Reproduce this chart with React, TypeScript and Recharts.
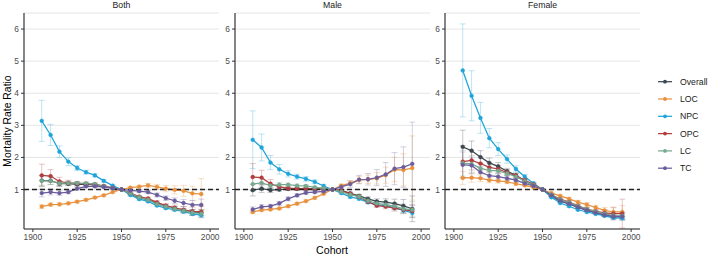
import React from "react";
import {
  LineChart,
  Line,
  XAxis,
  YAxis,
  CartesianGrid,
  ReferenceLine,
  ErrorBar,
} from "recharts";

// Birth cohorts (5-year steps)
const cohorts = [1905, 1910, 1915, 1920, 1925, 1930, 1935, 1940, 1945, 1950, 1955, 1960, 1965, 1970, 1975, 1980, 1985, 1990, 1995];

const seriesNames = ["Overall", "LOC", "NPC", "OPC", "LC", "TC"];
const panelTitles = ["Both", "Male", "Female"];
const xTicks = [1900, 1925, 1950, 1975, 2000];
const yTicks = [1, 2, 3, 4, 5, 6];

// Both sexes: mortality rate ratio by cohort
const bothOverall = [1.28, 1.28, 1.18, 1.18, 1.16, 1.16, 1.15, 1.10, 1.04, 1.00, 0.86, 0.75, 0.68, 0.57, 0.48, 0.42, 0.35, 0.30, 0.28];
const bothLOC = [0.47, 0.53, 0.54, 0.57, 0.62, 0.68, 0.75, 0.82, 0.92, 1.00, 1.06, 1.09, 1.13, 1.08, 1.03, 0.99, 0.96, 0.88, 0.86];
const bothNPC = [3.14, 2.70, 2.18, 1.87, 1.67, 1.54, 1.44, 1.27, 1.12, 1.00, 0.83, 0.70, 0.63, 0.50, 0.42, 0.37, 0.31, 0.24, 0.20];
const bothOPC = [1.44, 1.42, 1.25, 1.21, 1.19, 1.18, 1.16, 1.11, 1.05, 1.00, 0.89, 0.78, 0.72, 0.60, 0.50, 0.43, 0.37, 0.32, 0.30];
const bothLC = [1.27, 1.27, 1.19, 1.20, 1.20, 1.19, 1.17, 1.10, 1.04, 1.00, 0.88, 0.76, 0.68, 0.55, 0.47, 0.40, 0.34, 0.28, 0.25];
const bothTC = [0.89, 0.92, 0.89, 0.92, 1.03, 1.10, 1.10, 1.08, 1.04, 1.00, 0.97, 0.95, 0.92, 0.83, 0.73, 0.65, 0.58, 0.52, 0.52];

// Both sexes: 95% CI half-widths
const bothOverallErr = [0.15, 0.12, 0.08, 0.06, 0.05, 0.04, 0.03, 0.03, 0.02, 0, 0.02, 0.02, 0.03, 0.03, 0.04, 0.05, 0.06, 0.07, 0.09];
const bothLOCErr = [0.06, 0.05, 0.05, 0.04, 0.04, 0.04, 0.03, 0.03, 0.03, 0, 0.03, 0.04, 0.06, 0.08, 0.10, 0.13, 0.17, 0.22, 0.48];
const bothNPCErr = [0.64, 0.33, 0.18, 0.12, 0.08, 0.06, 0.05, 0.04, 0.03, 0, 0.03, 0.03, 0.03, 0.03, 0.03, 0.04, 0.04, 0.05, 0.05];
const bothOPCErr = [0.35, 0.20, 0.13, 0.08, 0.06, 0.05, 0.04, 0.03, 0.03, 0, 0.03, 0.03, 0.04, 0.05, 0.06, 0.08, 0.10, 0.13, 0.18];
const bothLCErr = [0.18, 0.12, 0.08, 0.06, 0.05, 0.04, 0.04, 0.03, 0.03, 0, 0.03, 0.03, 0.04, 0.04, 0.05, 0.06, 0.07, 0.09, 0.12];
const bothTCErr = [0.12, 0.09, 0.07, 0.05, 0.05, 0.04, 0.04, 0.03, 0.03, 0, 0.03, 0.04, 0.05, 0.06, 0.07, 0.09, 0.11, 0.14, 0.18];

// Male
const maleOverall = [0.98, 1.03, 0.98, 1.00, 1.02, 1.02, 1.02, 1.01, 1.01, 1.00, 0.97, 0.88, 0.80, 0.71, 0.63, 0.61, 0.56, 0.49, 0.40];
const maleLOC = [0.30, 0.36, 0.38, 0.41, 0.48, 0.56, 0.64, 0.74, 0.87, 1.00, 1.12, 1.20, 1.30, 1.32, 1.35, 1.45, 1.62, 1.61, 1.67];
const maleNPC = [2.55, 2.31, 1.84, 1.63, 1.49, 1.40, 1.33, 1.24, 1.11, 1.00, 0.89, 0.77, 0.71, 0.60, 0.52, 0.50, 0.43, 0.35, 0.27];
const maleOPC = [1.39, 1.37, 1.18, 1.08, 1.04, 1.03, 1.03, 1.02, 1.01, 1.00, 0.96, 0.87, 0.77, 0.62, 0.50, 0.47, 0.42, 0.37, 0.33];
const maleLC = [1.17, 1.21, 1.12, 1.15, 1.15, 1.12, 1.11, 1.07, 1.04, 1.00, 0.93, 0.84, 0.78, 0.65, 0.57, 0.53, 0.48, 0.40, 0.37];
const maleTC = [0.38, 0.46, 0.48, 0.57, 0.71, 0.82, 0.90, 0.92, 0.94, 1.00, 1.08, 1.17, 1.31, 1.32, 1.37, 1.47, 1.65, 1.70, 1.80];

const maleOverallErr = [0.18, 0.12, 0.07, 0.05, 0.04, 0.03, 0.03, 0.03, 0.02, 0, 0.03, 0.04, 0.05, 0.06, 0.08, 0.10, 0.14, 0.20, 0.40];
const maleLOCErr = [0.05, 0.05, 0.04, 0.04, 0.04, 0.04, 0.04, 0.04, 0.04, 0, 0.05, 0.07, 0.10, 0.13, 0.18, 0.25, 0.38, 0.50, 1.00];
const maleNPCErr = [0.90, 0.42, 0.22, 0.15, 0.10, 0.08, 0.07, 0.06, 0.05, 0, 0.04, 0.04, 0.04, 0.04, 0.05, 0.05, 0.06, 0.07, 0.10];
const maleOPCErr = [0.42, 0.23, 0.13, 0.08, 0.06, 0.05, 0.04, 0.04, 0.03, 0, 0.03, 0.04, 0.05, 0.05, 0.06, 0.07, 0.09, 0.12, 0.20];
const maleLCErr = [0.22, 0.14, 0.09, 0.07, 0.05, 0.05, 0.04, 0.04, 0.03, 0, 0.04, 0.04, 0.05, 0.06, 0.07, 0.09, 0.11, 0.15, 0.25];
const maleTCErr = [0.08, 0.07, 0.06, 0.06, 0.06, 0.05, 0.05, 0.05, 0.05, 0, 0.06, 0.10, 0.13, 0.18, 0.25, 0.37, 0.50, 0.63, 1.30];

// Female
const femaleOverall = [2.33, 2.21, 2.01, 1.83, 1.72, 1.57, 1.44, 1.27, 1.13, 1.00, 0.80, 0.64, 0.55, 0.44, 0.35, 0.27, 0.20, 0.15, 0.14];
const femaleLOC = [1.36, 1.37, 1.35, 1.29, 1.27, 1.24, 1.18, 1.13, 1.07, 1.00, 0.89, 0.80, 0.71, 0.61, 0.53, 0.44, 0.35, 0.30, 0.30];
const femaleNPC = [4.71, 3.92, 3.23, 2.60, 2.26, 1.95, 1.64, 1.40, 1.19, 1.00, 0.76, 0.58, 0.48, 0.37, 0.30, 0.24, 0.18, 0.12, 0.11];
const femaleOPC = [1.87, 1.91, 1.81, 1.69, 1.64, 1.53, 1.43, 1.29, 1.16, 1.00, 0.83, 0.70, 0.61, 0.49, 0.39, 0.32, 0.27, 0.25, 0.25];
const femaleLC = [1.82, 1.80, 1.66, 1.60, 1.58, 1.50, 1.40, 1.26, 1.14, 1.00, 0.84, 0.69, 0.60, 0.48, 0.39, 0.31, 0.25, 0.19, 0.18];
const femaleTC = [1.77, 1.75, 1.54, 1.43, 1.40, 1.35, 1.29, 1.19, 1.11, 1.00, 0.82, 0.65, 0.56, 0.45, 0.36, 0.28, 0.21, 0.16, 0.16];

const femaleOverallErr = [0.52, 0.30, 0.20, 0.15, 0.12, 0.09, 0.07, 0.05, 0.04, 0, 0.03, 0.03, 0.03, 0.03, 0.03, 0.03, 0.04, 0.05, 0.07];
const femaleLOCErr = [0.20, 0.14, 0.10, 0.08, 0.07, 0.06, 0.05, 0.04, 0.03, 0, 0.03, 0.04, 0.04, 0.05, 0.06, 0.07, 0.09, 0.13, 0.20];
const femaleNPCErr = [1.45, 0.78, 0.48, 0.30, 0.20, 0.13, 0.10, 0.07, 0.05, 0, 0.03, 0.03, 0.03, 0.03, 0.03, 0.03, 0.03, 0.04, 0.05];
const femaleOPCErr = [0.50, 0.30, 0.20, 0.15, 0.12, 0.09, 0.07, 0.05, 0.04, 0, 0.03, 0.03, 0.04, 0.04, 0.05, 0.06, 0.10, 0.20, 0.45];
const femaleLCErr = [0.40, 0.26, 0.17, 0.13, 0.10, 0.08, 0.06, 0.05, 0.04, 0, 0.03, 0.03, 0.03, 0.04, 0.04, 0.05, 0.06, 0.08, 0.12];
const femaleTCErr = [0.40, 0.26, 0.17, 0.12, 0.10, 0.08, 0.06, 0.05, 0.04, 0, 0.03, 0.03, 0.03, 0.04, 0.04, 0.05, 0.06, 0.08, 0.12];

const colors: Record<string, string> = {
  Overall: "#3a474e",
  LOC: "#e8913d",
  NPC: "#1ea4d8",
  OPC: "#b23b3c",
  LC: "#76a98f",
  TC: "#6b5d9c",
};

const FONT = "'Liberation Sans', Arial, Helvetica, sans-serif";

function buildRows(values: number[][], errs: number[][]) {
  return cohorts.map((c, i) => {
    const row: Record<string, number> = { cohort: c };
    seriesNames.forEach((s, k) => {
      row[s] = values[k][i];
      row[s + "_err"] = errs[k][i];
    });
    return row;
  });
}

const panels = [
  buildRows(
    [bothOverall, bothLOC, bothNPC, bothOPC, bothLC, bothTC],
    [bothOverallErr, bothLOCErr, bothNPCErr, bothOPCErr, bothLCErr, bothTCErr]
  ),
  buildRows(
    [maleOverall, maleLOC, maleNPC, maleOPC, maleLC, maleTC],
    [maleOverallErr, maleLOCErr, maleNPCErr, maleOPCErr, maleLCErr, maleTCErr]
  ),
  buildRows(
    [femaleOverall, femaleLOC, femaleNPC, femaleOPC, femaleLC, femaleTC],
    [femaleOverallErr, femaleLOCErr, femaleNPCErr, femaleOPCErr, femaleLCErr, femaleTCErr]
  ),
];

const panelLefts = [0, 211, 421];
const PANEL_W = 222;
const AXIS_W = 24;
const PLOT_TOP = 13;
const XAXIS_H = 29;
const H = 258;

function Panel({ rows, title, left }: { rows: Record<string, number>[]; title: string; left: number }) {
  const plotLeft = left + AXIS_W;
  const plotRight = left + PANEL_W - 3;
  return (
    <div style={{ position: "absolute", left, top: 0, width: PANEL_W, height: H }}>
      <LineChart
        width={PANEL_W}
        height={H}
        data={rows}
        margin={{ top: PLOT_TOP, right: 3, bottom: 0, left: 0 }}
      >
        <CartesianGrid vertical={false} stroke="#e6e6e6" strokeWidth={1} />
        <XAxis
          type="number"
          dataKey="cohort"
          domain={[1895, 2005]}
          ticks={xTicks}
          allowDataOverflow
          height={XAXIS_H}
          tickSize={3}
          tickMargin={2}
          stroke="#222"
          tick={{ fill: "#4d4d4d", fontSize: 8.4, fontFamily: FONT }}
          tickLine={{ stroke: "#333" }}
          axisLine={{ stroke: "#222", strokeWidth: 1.1 }}
        />
        <YAxis
          type="number"
          domain={[-0.23, 6.5]}
          ticks={yTicks}
          allowDataOverflow
          width={AXIS_W}
          tickSize={3}
          tickMargin={2}
          stroke="#222"
          tick={{ fill: "#4d4d4d", fontSize: 8.4, fontFamily: FONT }}
          tickLine={{ stroke: "#333" }}
          axisLine={{ stroke: "#222", strokeWidth: 1.1 }}
        />
        {seriesNames.map((s) => (
          <Line
            key={s}
            type="linear"
            dataKey={s}
            stroke={colors[s]}
            strokeWidth={1.25}
            dot={{ r: 1.9, fill: colors[s], stroke: colors[s], strokeWidth: 0.5 }}
            activeDot={false}
            isAnimationActive={false}
          >
            <ErrorBar
              dataKey={s + "_err"}
              direction="y"
              width={3}
              stroke={colors[s]}
              strokeOpacity={0.32}
              strokeWidth={0.9}
            />
          </Line>
        ))}
        <ReferenceLine y={1} stroke="#222" strokeWidth={1.4} strokeDasharray="5 3" />
      </LineChart>
      <div
        style={{
          position: "absolute",
          left: plotLeft - left,
          width: plotRight - plotLeft,
          top: 0,
          textAlign: "center",
          fontFamily: FONT,
          fontSize: 8.7,
          lineHeight: "10px",
          color: "#1a1a1a",
        }}
      >
        {title}
      </div>
    </div>
  );
}

function Legend() {
  const startY = 81.7;
  const step = 17.3;
  return (
    <svg style={{ position: "absolute", left: 650, top: 0 }} width={59} height={H}>
      {seriesNames.map((s, i) => {
        const y = startY + i * step;
        return (
          <g key={s}>
            <line x1={8} x2={22} y1={y} y2={y} stroke={colors[s]} strokeWidth={1.25} />
            <circle cx={15} cy={y} r={1.9} fill={colors[s]} />
            <text
              x={30}
              y={y}
              dy="0.35em"
              fontSize={8.7}
              fontFamily={FONT}
              fill="#1a1a1a"
            >
              {s}
            </text>
          </g>
        );
      })}
    </svg>
  );
}

export default function App() {
  return (
    <div
      style={{
        position: "fixed",
        left: 0,
        top: 0,
        width: 709,
        height: H,
        background: "#ffffff",
        overflow: "hidden",
      }}
    >
      {panels.map((rows, i) => (
        <Panel key={panelTitles[i]} rows={rows} title={panelTitles[i]} left={panelLefts[i]} />
      ))}
      <svg style={{ position: "absolute", left: 0, top: 0 }} width={20} height={H}>
        <text
          transform="translate(7.5,121) rotate(-90)"
          textAnchor="middle"
          dominantBaseline="central"
          fontSize={10.4}
          fontFamily={FONT}
          fill="#000"
        >
          Mortality Rate Ratio
        </text>
      </svg>
      <div
        style={{
          position: "absolute",
          left: 235,
          width: 194,
          top: 243,
          textAlign: "center",
          fontFamily: FONT,
          fontSize: 10.6,
          lineHeight: "14px",
          color: "#000",
        }}
      >
        Cohort
      </div>
      <Legend />
    </div>
  );
}
